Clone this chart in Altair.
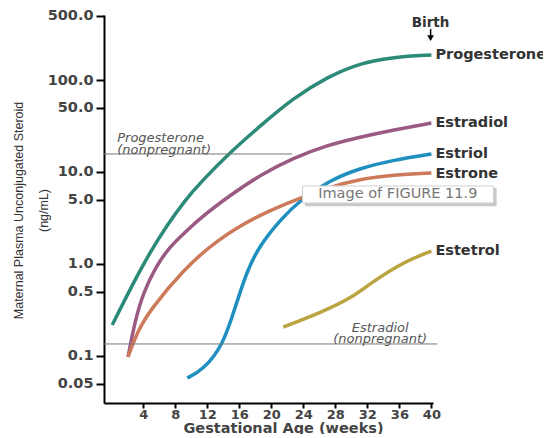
import altair as alt
import pandas as pd

# ---- data (weeks, ng/mL) ----
prog_w = [0.125, 2.75, 4.875, 7.0, 9.25, 11.1, 14.9, 18.6, 22.75, 27.0, 31.1, 35.25, 40.0]
prog_v = [0.217, 0.62, 1.35, 2.66, 4.96, 7.6, 16.5, 31.6, 63.7, 108, 153, 178, 187]

e2_w = [2.1, 3.0, 4.0, 5.5, 7.0, 8.6, 11.1, 14.9, 18.6, 22.75, 27.0, 31.1, 35.25, 40.0]
e2_v = [0.0975, 0.246, 0.484, 0.905, 1.42, 1.96, 3.16, 5.62, 9.27, 14.2, 19.6, 24.0, 28.6, 34.1]

e1_w = [2.1, 3.375, 4.875, 9.0, 13.0, 18.6, 23.6, 27.0, 31.1, 35.25, 40.0]
e1_v = [0.0975, 0.192, 0.316, 0.86, 1.78, 3.49, 5.21, 6.70, 8.39, 9.27, 9.75]

e3_w = [9.5, 11.5, 14.0, 15.5, 17.0, 18.6, 21.1, 23.6, 27.4, 31.1, 35.25, 40.0]
e3_v = [0.0577, 0.0705, 0.132, 0.341, 0.86, 1.61, 3.0, 4.96, 8.2, 11.0, 13.5, 15.7]

e4_w = [21.5, 26.1, 30.25, 32.4, 36.5, 40.0]
e4_v = [0.206, 0.293, 0.438, 0.62, 1.05, 1.38]

names = ["Progesterone", "Estradiol", "Estriol", "Estrone", "Estetrol"]
colors = ["#2b8a78", "#9b5a82", "#1f8fbf", "#cc7a5a", "#b9a43f"]

series = {
    "Progesterone": (prog_w, prog_v),
    "Estradiol": (e2_w, e2_v),
    "Estriol": (e3_w, e3_v),
    "Estrone": (e1_w, e1_v),
    "Estetrol": (e4_w, e4_v),
}

rows = []
for n in names:
    w, v = series[n]
    for i, (a, b) in enumerate(zip(w, v)):
        rows.append({"steroid": n, "week": a, "value": b, "order": i})
df = pd.DataFrame(rows)

end_labels = pd.DataFrame({
    "steroid": names,
    "week": [40, 40, 40, 40, 40],
    "value": [187, 34.1, 15.7, 9.5, 1.40],
})

nonpreg = pd.DataFrame({
    "x0": [-0.9, -0.9],
    "x1": [22.6, 40.75],
    "y": [15.7, 0.135],
})

notes = pd.DataFrame({
    "week": [0.75, 0.75, 33.6, 33.6],
    "value": [23.4, 17.2, 0.201, 0.153],
    "text": ["Progesterone", "(nonpregnant)", "Estradiol", "(nonpregnant)"],
    "align": ["left", "left", "center", "center"],
})

x_ticks = [4, 8, 12, 16, 20, 24, 28, 32, 36, 40]
y_ticks = [0.05, 0.1, 0.5, 1, 5, 10, 50, 100, 500]

xscale = alt.Scale(domain=[-0.9, 40.2], nice=False, zero=False)
yscale = alt.Scale(type="log", domain=[0.0308, 509], nice=False)

x_axis = alt.Axis(
    values=x_ticks, grid=False, domainColor="black", domainWidth=2,
    tickColor="black", tickWidth=2, tickSize=5, labelOverlap=False,
    labelFont="DejaVu Sans", labelFontSize=13, labelFontWeight="bold",
    labelColor="#444", labelPadding=0,
    title="Gestational Age (weeks)", titleFont="DejaVu Sans", titleFontSize=14.5,
    titleFontWeight="bold", titleColor="#444", titleX=179, titleY=25,
    titleBaseline="middle", titleAlign="center")
y_axis = alt.Axis(
    values=y_ticks, grid=False, domainColor="black", domainWidth=2,
    tickColor="black", tickWidth=2, tickSize=8, labelOverlap=False,
    labelExpr="datum.value >= 0.1 ? format(datum.value, '.1f') : format(datum.value, '.2f')",
    labelFont="DejaVu Sans", labelFontSize=14.5, labelFontWeight="bold",
    labelColor="#444", labelPadding=3,
    title=["Maternal Plasma Unconjugated Steroid", "(ng/mL)"],
    titleFont="Liberation Sans", titleFontSize=12.5, titleFontWeight="normal",
    titleColor="#333", titleLineHeight=25, titleX=-79, titleY=195,
    titleBaseline="bottom", titleAlign="center", titleAngle=270)


def pos(xf, yf):
    return dict(x=alt.X(xf, scale=xscale, axis=x_axis),
                y=alt.Y(yf, scale=yscale, axis=y_axis))


lines = alt.Chart(df).mark_line(strokeWidth=3.5, interpolate="basis", strokeCap="butt").encode(
    color=alt.Color("steroid:N", scale=alt.Scale(domain=names, range=colors), legend=None),
    order="order:Q",
    **pos("week:Q", "value:Q"),
)

rules = alt.Chart(nonpreg).mark_rule(color="#777", strokeWidth=1).encode(
    x2="x1:Q", **pos("x0:Q", "y:Q"))

note_left = alt.Chart(notes[notes["align"] == "left"]).mark_text(
    align="left", baseline="middle", font="DejaVu Sans", fontStyle="italic",
    fontSize=13, color="#555").encode(text="text:N", **pos("week:Q", "value:Q"))
note_center = alt.Chart(notes[notes["align"] == "center"]).mark_text(
    align="center", baseline="middle", font="DejaVu Sans", fontStyle="italic",
    fontSize=13, color="#555").encode(text="text:N", **pos("week:Q", "value:Q"))

labels = alt.Chart(end_labels).mark_text(
    align="left", baseline="middle", dx=4, font="DejaVu Sans", fontWeight="bold",
    fontSize=14.5, color="#333").encode(text="steroid:N", **pos("week:Q", "value:Q"))

birth_df = pd.DataFrame({"week": [39.9], "top": [417], "shaft0": [358], "shaft1": [275],
                         "head": [285], "text": ["Birth"]})
birth_text = alt.Chart(birth_df).mark_text(
    align="center", baseline="middle", font="DejaVu Sans", fontWeight="bold",
    fontSize=13.5, color="#333").encode(text="text:N", **pos("week:Q", "top:Q"))
birth_shaft = alt.Chart(birth_df).mark_rule(color="black", strokeWidth=1.5).encode(
    y2="shaft1:Q", **pos("week:Q", "shaft0:Q"))
birth_head = alt.Chart(birth_df).mark_point(
    shape="triangle-down", filled=True, size=45, color="black", opacity=1).encode(
    **pos("week:Q", "head:Q"))

box_df = pd.DataFrame({"x0": [23.9], "x1": [47.75], "y0": [7.05], "y1": [4.6],
                       "sx0": [24.2], "sx1": [48.15], "sy0": [6.7], "sy1": [4.25],
                       "tx": [35.8], "ty": [5.75], "text": ["Image of FIGURE 11.9"]})
shadow = alt.Chart(box_df).mark_rect(color="#bbbbbb", opacity=0.8).encode(
    x2="sx1:Q", y2="sy1:Q", **pos("sx0:Q", "sy0:Q"))
box = alt.Chart(box_df).mark_rect(fill="white", stroke="#d0d0d0", strokeWidth=1).encode(
    x2="x1:Q", y2="y1:Q", **pos("x0:Q", "y0:Q"))
box_text = alt.Chart(box_df).mark_text(
    align="center", baseline="middle", font="DejaVu Sans", fontSize=14.5, color="#777").encode(
    text="text:N", **pos("tx:Q", "ty:Q"))

chart = alt.layer(
    lines, rules, note_left, note_center, labels, birth_text, birth_shaft, birth_head,
    shadow, box, box_text
).properties(
    width=329, height=388,
    background="white",
    autosize=alt.AutoSizeParams(type="none"),
    padding={"left": 96, "top": 7, "right": 110, "bottom": 31},
).configure_axis(labelOverlap=False).configure_view(stroke=None)

chart.save("out.html", embed_options={"renderer": "svg", "actions": False})
